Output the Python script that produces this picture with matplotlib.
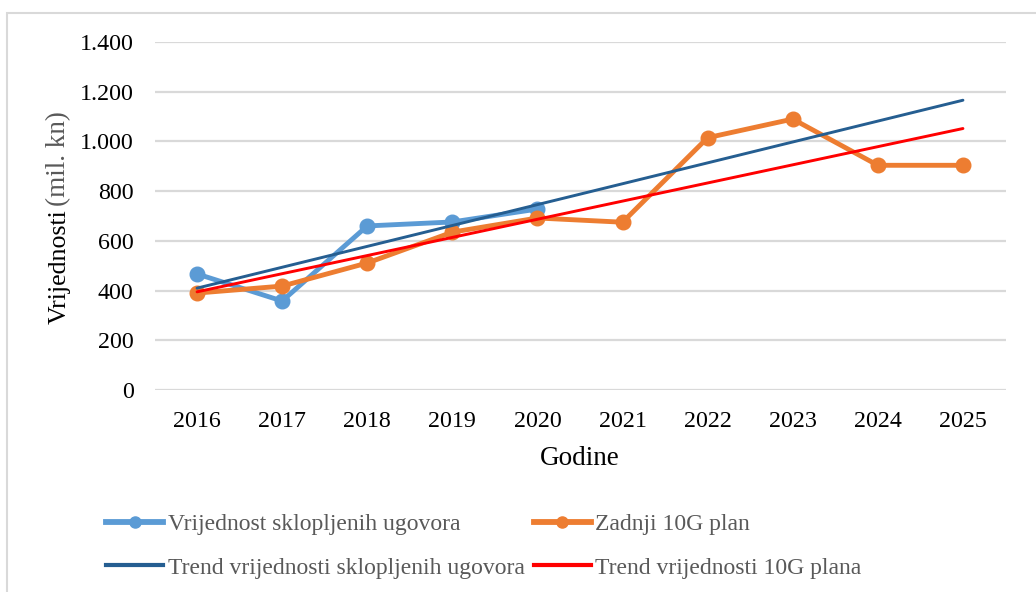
import matplotlib
matplotlib.use("Agg")
import matplotlib.pyplot as plt
import numpy as np
from matplotlib.lines import Line2D
from matplotlib.patches import Rectangle

years = ["2016", "2017", "2018", "2019", "2020", "2021", "2022", "2023", "2024", "2025"]
contracts = [467, 358, 660, 676, 728]
plan = [390, 418, 511, 635, 692, 675, 1015, 1090, 904, 904]
yticks = [0, 200, 400, 600, 800, 1000, 1200, 1400]
ytick_labels = ["0", "200", "400", "600", "800", "1.000", "1.200", "1.400"]

plt.rcParams['font.family'] = ['Liberation Serif', 'DejaVu Serif']

C_BLUE = "#5B9BD5"
C_ORANGE = "#ED7D31"
C_DBLUE = "#255E91"
C_RED = "#FF0000"
GRID = "#D9D9D9"

fig = plt.figure(figsize=(10.36, 5.92), dpi=100)
fig.patches.append(Rectangle((7/1036, -0.1), 1.2, 1.1 - 13/592, transform=fig.transFigure,
                             fill=False, edgecolor=GRID, linewidth=1.5))
ax = fig.add_axes([154.5/1036, 1-390/592, 851/1036, 348/592])

x_all = np.arange(len(years))
x_c = np.arange(len(contracts))

# trend lines (linear fits, like Excel)
pc = np.polyfit(x_c + 1, contracts, 1)
pp = np.polyfit(x_all + 1, plan, 1)
trend_c = np.polyval(pc, x_all + 1)
trend_p = np.polyval(pp, x_all + 1)

ax.plot(x_c, contracts, color=C_BLUE, lw=3.5, marker='o', ms=10.5, zorder=3,
        solid_joinstyle='round')
ax.plot(x_all, plan, color=C_ORANGE, lw=3.5, marker='o', ms=10.5, zorder=3,
        solid_joinstyle='round')
ax.plot(x_all, trend_c, color=C_DBLUE, lw=2.1, zorder=4, solid_capstyle='round')
ax.plot(x_all, trend_p, color=C_RED, lw=2.1, zorder=4, solid_capstyle='round')

ax.set_xlim(-0.5, len(years) - 0.5)
ax.set_ylim(0, 1400)
ax.set_yticks(yticks)
ax.set_yticklabels(ytick_labels)
ax.set_xticks(x_all)
ax.set_xticklabels(years)
ax.grid(axis='y', color=GRID, lw=1.6, zorder=0)
ax.set_axisbelow(True)
for s in ax.spines.values():
    s.set_visible(False)
ax.tick_params(axis='both', length=0, labelsize=17.3, colors='black')
ax.tick_params(axis='y', pad=15)
ax.tick_params(axis='x', pad=15)

ax.set_xlabel("Godine", fontsize=19.5, labelpad=10)

# y label in two parts
fig.text(60/1036, 1-324/592, "Vrijednosti", rotation=90, fontsize=18.6, va='bottom', ha='center', color='black')
fig.text(59/1036, 1-206/592, "(mil. kn)", rotation=90, fontsize=19.5, va='bottom', ha='center', color='#595959')

handles = [
    Line2D([], [], color=C_BLUE, lw=4.2, marker='o', ms=8),
    Line2D([], [], color=C_DBLUE, lw=3.0),
    Line2D([], [], color=C_ORANGE, lw=4.2, marker='o', ms=8),
    Line2D([], [], color=C_RED, lw=3.0),
]
labels = ["Vrijednost sklopljenih ugovora", "Trend vrijednosti sklopljenih ugovora",
          "Zadnji 10G plan", "Trend vrijednosti 10G plana"]
leg = fig.legend(handles, labels, ncol=2, loc='upper left', bbox_to_anchor=(85/1036, 1-492/592),
                 frameon=False, fontsize=17, handlelength=2.4, handletextpad=0.2,
                 columnspacing=0.4, labelspacing=0.95, labelcolor='#595959')

fig.savefig("out.png", dpi=100)
